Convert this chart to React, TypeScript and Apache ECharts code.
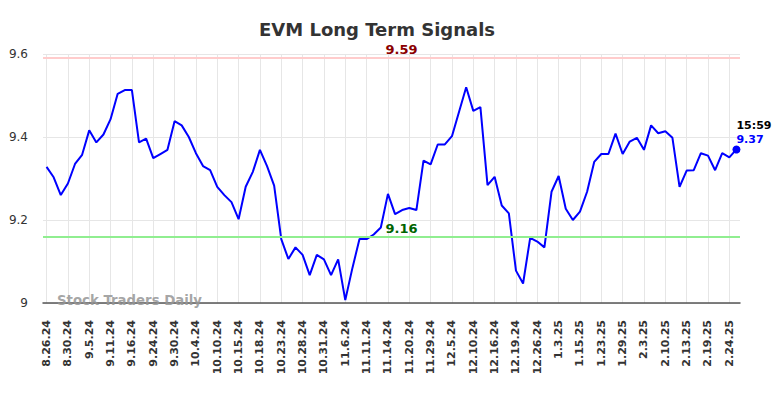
import React, { useEffect, useRef } from "react";
import * as echarts from "echarts";

const dates = [
  "8.26.24", "8.27.24", "8.28.24", "8.30.24", "9.3.24", "9.4.24", "9.5.24", "9.6.24", "9.9.24", "9.11.24",
  "9.12.24", "9.13.24", "9.16.24", "9.17.24", "9.19.24", "9.24.24", "9.25.24", "9.26.24", "9.30.24", "10.1.24",
  "10.2.24", "10.4.24", "10.7.24", "10.8.24", "10.10.24", "10.11.24", "10.14.24", "10.15.24", "10.16.24", "10.17.24",
  "10.18.24", "10.21.24", "10.22.24", "10.23.24", "10.24.24", "10.25.24", "10.28.24", "10.29.24", "10.30.24", "10.31.24",
  "11.1.24", "11.4.24", "11.6.24", "11.7.24", "11.8.24", "11.11.24", "11.12.24", "11.13.24", "11.14.24", "11.15.24",
  "11.18.24", "11.20.24", "11.21.24", "11.22.24", "11.29.24", "12.2.24", "12.3.24", "12.5.24", "12.6.24", "12.9.24",
  "12.10.24", "12.11.24", "12.13.24", "12.16.24", "12.17.24", "12.18.24", "12.19.24", "12.20.24", "12.23.24", "12.26.24",
  "12.27.24", "12.30.24", "1.3.25", "1.6.25", "1.10.25", "1.15.25", "1.16.25", "1.21.25", "1.23.25", "1.24.25",
  "1.27.25", "1.29.25", "1.30.25", "1.31.25", "2.3.25", "2.4.25", "2.6.25", "2.10.25", "2.11.25", "2.12.25",
  "2.13.25", "2.14.25", "2.18.25", "2.19.25", "2.20.25", "2.21.25", "2.24.25", "2.25.25",
];

const closes = [
  9.328, 9.303, 9.26, 9.288, 9.335, 9.357, 9.416, 9.387, 9.406, 9.443,
  9.504, 9.513, 9.513, 9.387, 9.396, 9.349, 9.359, 9.369, 9.438, 9.428,
  9.400, 9.361, 9.330, 9.320, 9.280, 9.260, 9.243, 9.202, 9.280, 9.316,
  9.369, 9.330, 9.283, 9.154, 9.106, 9.134, 9.116, 9.067, 9.116, 9.105,
  9.067, 9.105, 9.007, 9.084, 9.154, 9.154, 9.165, 9.182, 9.263, 9.214,
  9.224, 9.229, 9.224, 9.343, 9.334, 9.382, 9.382, 9.402, 9.461, 9.520,
  9.463, 9.472, 9.284, 9.304, 9.235, 9.216, 9.078, 9.047, 9.157, 9.148,
  9.134, 9.268, 9.306, 9.227, 9.200, 9.220, 9.268, 9.340, 9.359, 9.359,
  9.408, 9.359, 9.389, 9.398, 9.369, 9.428, 9.409, 9.414, 9.398, 9.280,
  9.319, 9.320, 9.361, 9.355, 9.320, 9.361, 9.351, 9.37,
];

const upperSignal = 9.59;
const lowerSignal = 9.16;
const lastTime = "15:59";
const yMin = 9;
const yMax = 9.6;
const yStep = 0.2;

const FONT = "DejaVu Sans";

export default function App() {
  const ref = useRef<HTMLDivElement>(null);
  useEffect(() => {
    if (!ref.current) return;
    const chart = echarts.init(ref.current, null, { renderer: "svg" });
    const lastIdx = closes.length - 1;
    chart.setOption({
      animation: false,
      textStyle: { fontFamily: FONT },
      title: {
        text: "EVM Long Term Signals",
        left: 254,
        top: 15,
        textStyle: { fontFamily: FONT, fontSize: 18, fontWeight: "bold", color: "#333" },
      },
      grid: { left: 43, right: 44, top: 54, bottom: 95, containLabel: false },
      xAxis: {
        type: "category",
        data: dates,
        boundaryGap: true,
        axisLine: { show: true, lineStyle: { color: "#555", width: 1.5 } },
        axisTick: { show: false },
        axisLabel: {
          interval: 2,
          rotate: 90,
          margin: 17,
          fontSize: 11,
          fontWeight: "bold",
          color: "#333",
          fontFamily: FONT,
        },
        splitLine: {
          show: true,
          interval: 2,
          alignWithLabel: true,
          lineStyle: { color: "#e6e6e6", width: 1 },
        } as any,
      },
      yAxis: {
        type: "value",
        min: yMin,
        max: yMax,
        interval: yStep,
        axisLine: { show: false },
        axisTick: { show: false },
        axisLabel: { fontSize: 12, color: "#333", margin: 15, fontFamily: FONT },
        splitLine: { show: true, lineStyle: { color: "#e6e6e6", width: 1 } },
      },
      graphic: [
        {
          type: "text",
          left: 57,
          top: 294,
          z: 100,
          style: {
            text: "Stock Traders Daily",
            font: `bold 13.3px "${FONT}"`,
            fill: "rgba(150,150,150,0.85)",
          },
        },
      ],
      series: [
        {
          type: "line",
          data: closes,
          symbol: "none",
          lineStyle: { color: "#0000ff", width: 2 },
          itemStyle: { color: "#0000ff" },
          markLine: {
            silent: true,
            symbol: ["none", "none"],
            data: [
              {
                yAxis: upperSignal,
                lineStyle: { color: "#ffcccc", width: 2, type: "solid" },
                label: {
                  show: true,
                  position: "insideMiddleTop",
                  formatter: String(upperSignal),
                  color: "#8b0000",
                  fontWeight: "bold",
                  fontSize: 13,
                  fontFamily: FONT,
                  distance: 2,
                  padding: [0, 0, 0, 20],
                },
              },
              {
                yAxis: lowerSignal,
                lineStyle: { color: "#90ee90", width: 2, type: "solid" },
                label: {
                  show: true,
                  position: "insideMiddleTop",
                  formatter: String(lowerSignal),
                  color: "#006400",
                  fontWeight: "bold",
                  fontSize: 13,
                  fontFamily: FONT,
                  distance: 2,
                  padding: [0, 0, 0, 20],
                },
              },
            ],
          },
          markPoint: {
            silent: true,
            symbol: "circle",
            symbolSize: 8,
            itemStyle: { color: "#0000ff" },
            data: [
              {
                coord: [dates[lastIdx], closes[lastIdx]],
                label: {
                  show: true,
                  position: [4, -27],
                  align: "left",
                  verticalAlign: "top",
                  formatter: `{t|${lastTime}}\n{v|${closes[lastIdx]}}`,
                  rich: {
                    t: { fontSize: 11, fontWeight: "bold", color: "#000", lineHeight: 14, fontFamily: FONT },
                    v: { fontSize: 11, fontWeight: "bold", color: "#0000ff", lineHeight: 14, fontFamily: FONT },
                  },
                },
              },
            ],
          },
        },
      ],
    });
    return () => chart.dispose();
  }, []);
  return (
    <div
      ref={ref}
      style={{ position: "absolute", left: 0, top: 0, width: 784, height: 398 }}
    />
  );
}
